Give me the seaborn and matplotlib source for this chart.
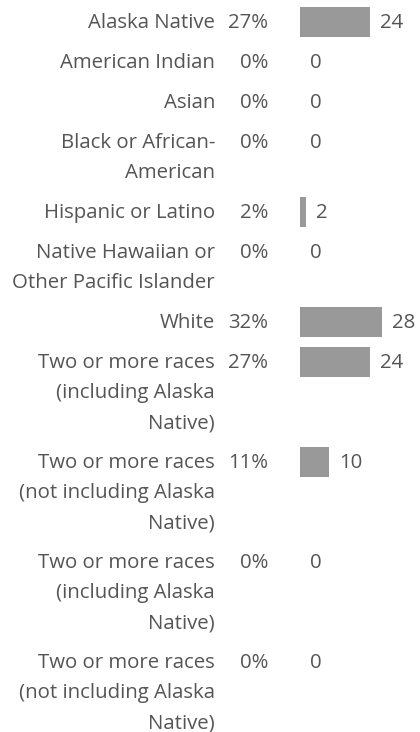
import re

import matplotlib
matplotlib.use("Agg")
import matplotlib.pyplot as plt
import pandas as pd
import seaborn as sns
from matplotlib.font_manager import FontProperties

# Survey respondents by race / ethnicity
categories = [
    "Alaska Native",
    "American Indian",
    "Asian",
    "Black or African-American",
    "Hispanic or Latino",
    "Native Hawaiian or Other Pacific Islander",
    "White",
    "Two or more races (including Alaska Native)",
    "Two or more races (not including Alaska Native)",
    "Two or more races (including Alaska Native)",
    "Two or more races (not including Alaska Native)",
]
counts = [24, 0, 0, 0, 2, 0, 28, 24, 10, 0, 0]
percents = ["27%", "0%", "0%", "0%", "2%", "0%", "32%", "27%", "11%", "0%", "0%"]

W, H, DPI = 420, 732, 100
TEXT = "#555555"
BAR = "#999999"
FONT = "Open Sans"
FS = 14.7
LABEL_RIGHT = 215
LABEL_MAX = 207  # available width for category labels, px

sns.set_theme(style="white")
plt.rcParams["font.family"] = [FONT, "DejaVu Sans"]

fig = plt.figure(figsize=(W / DPI, H / DPI), dpi=DPI)
renderer = fig.canvas.get_renderer()
prop = FontProperties(family=[FONT, "DejaVu Sans"], size=FS)


def text_width(s):
    w, _, _ = renderer.get_text_width_height_descent(s, prop, ismath=False)
    return w


def wrap_px(label, max_w):
    # split after spaces and hyphens, then fill lines greedily by pixel width
    tokens = re.findall(r"[^\s-]+-?|\s+", label)
    lines, cur = [], ""
    for tok in tokens:
        trial = cur + tok
        if cur.strip() and text_width(trial.rstrip()) > max_w:
            lines.append(cur.rstrip())
            cur = tok.lstrip()
        else:
            cur = trial
    if cur.strip():
        lines.append(cur.rstrip())
    return lines


# Row layout in pixel units: each wrapped line takes 30 px, rows are separated by 10 px
LINE = 30
wrapped = [wrap_px(c, LABEL_MAX) for c in categories]
centers = []
y = 22
for lines in wrapped:
    centers.append(y)
    y += 10 + LINE * len(lines)

df = pd.DataFrame({"count": counts, "row": centers})

# Bar area: starts at x = 300 px, about 2.93 px per respondent
bar_left = 300
px_per_unit = 2.93
ax = fig.add_axes([bar_left / W, 0, (W - bar_left) / W, 1])
sns.barplot(data=df, x="count", y="row", orient="h", native_scale=True,
            width=0.75, color=BAR, saturation=1, linewidth=0, ax=ax)
ax.set_xlim(0, (W - bar_left) / px_per_unit)
ax.set_ylim(H, 0)
ax.axis("off")

# Overlay for the labels, in pixel coordinates
tx = fig.add_axes([0, 0, 1, 1])
tx.set_xlim(0, W)
tx.set_ylim(H, 0)
tx.axis("off")

base = 6
for lines, cy, pct, n in zip(wrapped, centers, percents, counts):
    for k, line in enumerate(lines):
        tx.text(LABEL_RIGHT, cy + k * LINE + base, line, ha="right", va="baseline",
                fontproperties=prop, color=TEXT)
    tx.text(268, cy + base, pct, ha="right", va="baseline", fontproperties=prop,
            color=TEXT)
    tx.text(bar_left + n * px_per_unit + 10, cy + base, str(n), ha="left",
            va="baseline", fontproperties=prop, color=TEXT)

fig.savefig("out.png", dpi=DPI)
